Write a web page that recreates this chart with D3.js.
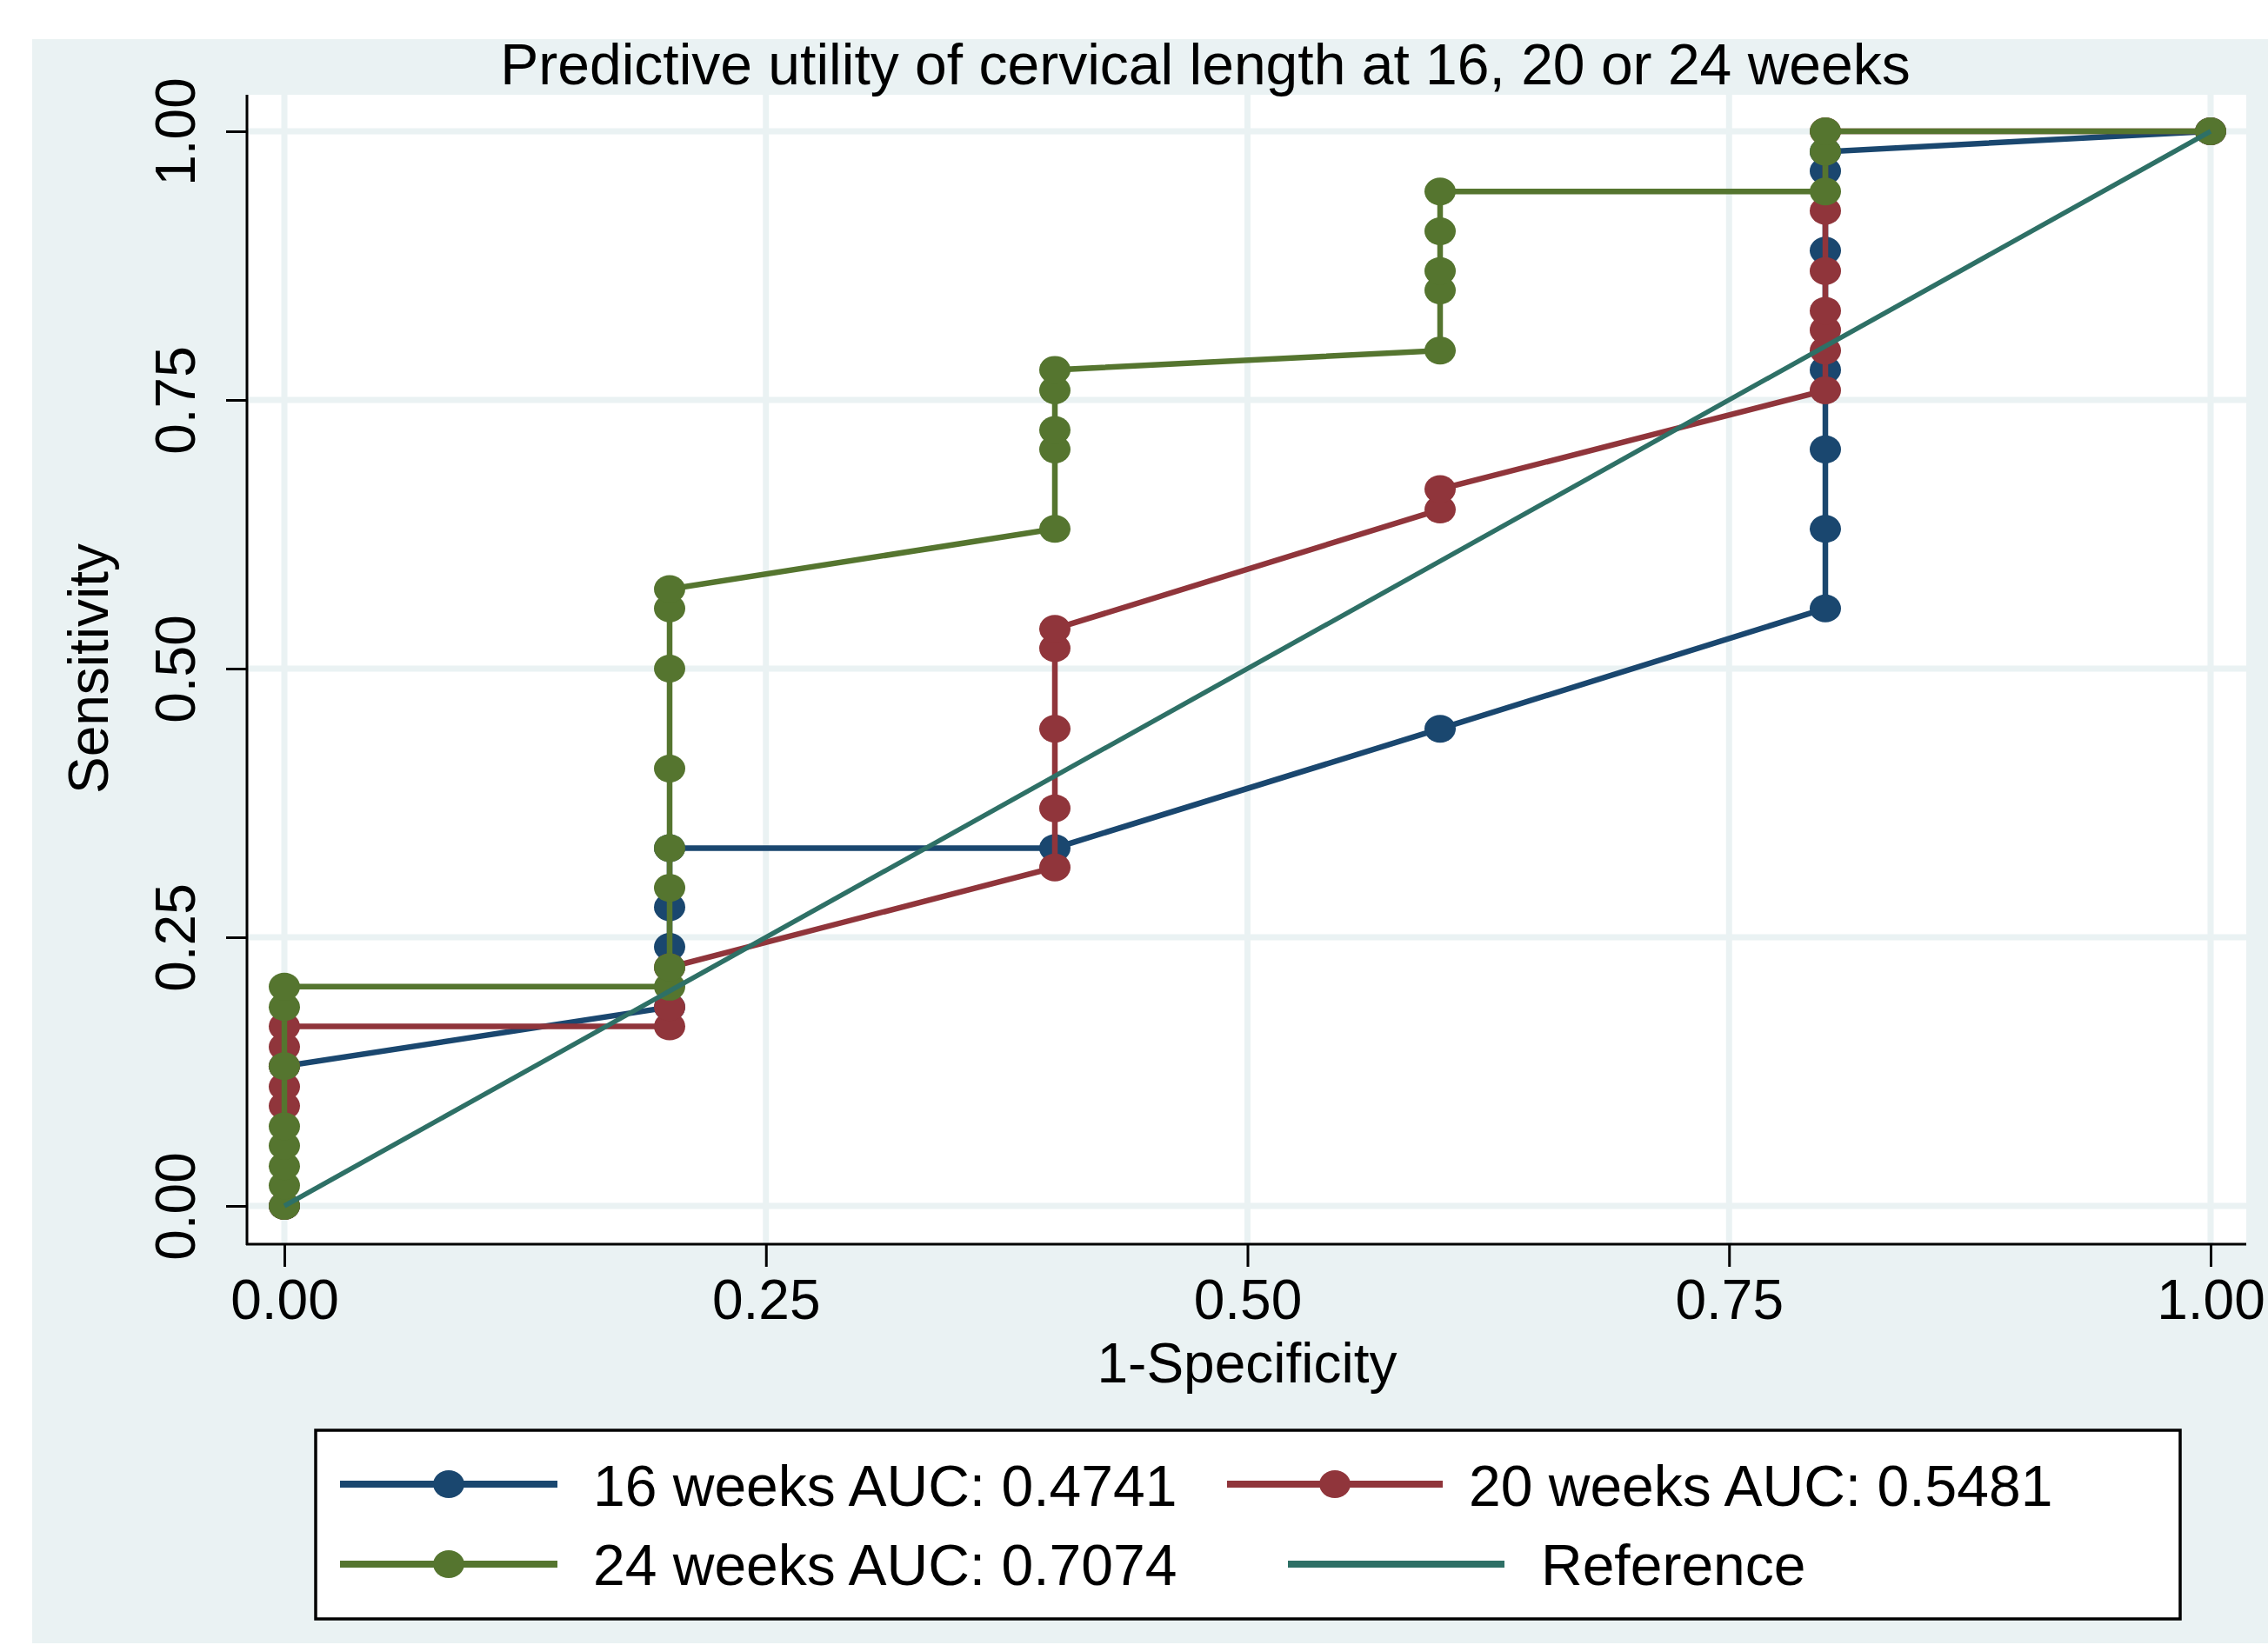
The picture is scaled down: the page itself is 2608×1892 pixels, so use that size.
<!DOCTYPE html>
<html lang="en">
<head>
<meta charset="UTF-8">
<script src="https://d3js.org/d3.v7.min.js"></script>
<title>ROC cervical length</title>
<style>
  body { margin: 0; background: #fff; }
  text { font-family: "Liberation Sans", Arial, sans-serif; fill: #000; }
</style>
</head>
<body>
<div id="Area"></div>
<script>
// 1-specificity / sensitivity pairs
const fpr16  = [0, 0, 0.2, 0.2, 0.2, 0.2, 0.4, 0.6, 0.8, 0.8, 0.8, 0.8, 0.8, 0.8, 0.8, 1];
const sens16 = [0, 0.130, 0.185, 0.241, 0.278, 0.333, 0.333, 0.444, 0.556, 0.630, 0.704, 0.778, 0.889, 0.963, 0.981, 1];

const fpr20  = [0, 0, 0, 0, 0, 0, 0.2, 0.2, 0.2, 0.4, 0.4, 0.4, 0.4, 0.4, 0.6, 0.6, 0.8, 0.8, 0.8, 0.8, 0.8, 0.8, 0.8, 1];
const sens20 = [0, 0.093, 0.111, 0.130, 0.148, 0.167, 0.167, 0.185, 0.222, 0.315, 0.370, 0.444, 0.519, 0.537, 0.648, 0.667, 0.759, 0.796, 0.815, 0.833, 0.870, 0.926, 1, 1];

const fpr24  = [0, 0, 0, 0, 0, 0, 0, 0, 0.2, 0.2, 0.2, 0.2, 0.2, 0.2, 0.2, 0.2, 0.4, 0.4, 0.4, 0.4, 0.4, 0.6, 0.6, 0.6, 0.6, 0.6, 0.8, 0.8, 0.8, 1];
const sens24 = [0, 0.019, 0.037, 0.056, 0.074, 0.130, 0.185, 0.204, 0.204, 0.222, 0.296, 0.333, 0.407, 0.500, 0.556, 0.574, 0.630, 0.704, 0.722, 0.759, 0.778, 0.796, 0.852, 0.870, 0.907, 0.944, 0.944, 0.981, 1, 1];

const refX = [0, 1];
const refY = [0, 1];

const seriesNames = ["16 weeks AUC: 0.4741", "20 weeks AUC: 0.5481", "24 weeks AUC: 0.7074", "Reference"];
const seriesColors = ["#1a476f", "#90353b", "#55752f", "#2e7066"];
const xTicks = [0, 0.25, 0.5, 0.75, 1];
const yTicks = [0, 0.25, 0.5, 0.75, 1];
const chartTitle = "Predictive utility of cervical length at 16, 20 or 24 weeks";
const xTitle = "1-Specificity";
const yTitle = "Sensitivity";

const svg = d3.select("#Area")
  .append("svg")
    .attr("width", 2608)
    .attr("height", 1892);

// backgrounds
svg.append("rect").attr("x", 37).attr("y", 45).attr("width", 2571).attr("height", 1845).attr("fill", "#eaf2f3");
svg.append("rect").attr("x", 284).attr("y", 109).attr("width", 2299).attr("height", 1322).attr("fill", "#fff");

const x = d3.scaleLinear().domain([0, 1]).range([327, 2542]);
const y = d3.scaleLinear().domain([0, 1]).range([1387, 151]);

// grid
svg.append("g").selectAll("line").data(xTicks).enter().append("line")
  .attr("x1", d => x(d)).attr("x2", d => x(d))
  .attr("y1", 109).attr("y2", 1431)
  .attr("stroke", "#eaf2f3").attr("stroke-width", 7);
svg.append("g").selectAll("line").data(yTicks).enter().append("line")
  .attr("x1", 284).attr("x2", 2583)
  .attr("y1", d => y(d)).attr("y2", d => y(d))
  .attr("stroke", "#eaf2f3").attr("stroke-width", 7);

// axes
const yAxis = svg.append("g")
  .attr("transform", "translate(284,0)")
  .call(d3.axisLeft(y).tickValues(yTicks).tickSize(24).tickFormat(d3.format(".2f")));
yAxis.select(".domain").remove();
yAxis.selectAll(".tick line").attr("stroke", "#000").attr("stroke-width", 3);
yAxis.selectAll(".tick text")
  .attr("x", null).attr("dy", null)
  .attr("text-anchor", "middle")
  .attr("transform", "translate(-60,0) rotate(-90)")
  .style("font-size", "64px");

const xAxis = svg.append("g")
  .attr("transform", "translate(0,1431)")
  .call(d3.axisBottom(x).tickValues(xTicks).tickSize(26).tickFormat(d3.format(".2f")));
xAxis.select(".domain").remove();
xAxis.selectAll(".tick line").attr("stroke", "#000").attr("stroke-width", 3);
xAxis.selectAll(".tick text")
  .attr("y", 86).attr("dy", null)
  .style("font-size", "64px");

svg.append("line").attr("x1", 284).attr("x2", 284).attr("y1", 109).attr("y2", 1432)
  .attr("stroke", "#000").attr("stroke-width", 3);
svg.append("line").attr("x1", 283).attr("x2", 2583).attr("y1", 1431).attr("y2", 1431)
  .attr("stroke", "#000").attr("stroke-width", 3);

// titles
svg.append("text").attr("x", 1386).attr("y", 97).attr("text-anchor", "middle")
  .style("font-size", "66px").text(chartTitle);
svg.append("text").attr("x", 1434).attr("y", 1590).attr("text-anchor", "middle")
  .style("font-size", "64px").text(xTitle);
svg.append("text").attr("transform", "translate(124,769) rotate(-90)").attr("text-anchor", "middle")
  .style("font-size", "64px").text(yTitle);

// series
const line = d3.line().x(d => x(d[0])).y(d => y(d[1]));
const series = [
  { pts: d3.zip(fpr16, sens16), color: seriesColors[0] },
  { pts: d3.zip(fpr20, sens20), color: seriesColors[1] },
  { pts: d3.zip(fpr24, sens24), color: seriesColors[2] }
];
series.forEach(s => {
  svg.append("path").datum(s.pts)
    .attr("d", line).attr("fill", "none")
    .attr("stroke", s.color).attr("stroke-width", 6.5);
  svg.append("g").selectAll("ellipse").data(s.pts).enter().append("ellipse")
    .attr("cx", d => x(d[0])).attr("cy", d => y(d[1]))
    .attr("rx", 18).attr("ry", 16)
    .attr("fill", s.color);
});
svg.append("path").datum(d3.zip(refX, refY))
  .attr("d", line).attr("fill", "none")
  .attr("stroke", seriesColors[3]).attr("stroke-width", 5.5);

// legend
const lg = svg.append("g");
lg.append("rect").attr("x", 363).attr("y", 1645).attr("width", 2144).attr("height", 217)
  .attr("fill", "#fff").attr("stroke", "#000").attr("stroke-width", 3.5);
const legendKeys = [
  { x1: 391, x2: 641, tx: 682, y: 1707, base: 1732, marker: true },
  { x1: 1411, x2: 1659, tx: 1689, y: 1707, base: 1732, marker: true },
  { x1: 391, x2: 641, tx: 682, y: 1799, base: 1823, marker: true },
  { x1: 1481, x2: 1730, tx: 1772, y: 1799, base: 1823, marker: false }
];
legendKeys.forEach((k, i) => {
  lg.append("line").attr("x1", k.x1).attr("x2", k.x2).attr("y1", k.y).attr("y2", k.y)
    .attr("stroke", seriesColors[i]).attr("stroke-width", 8);
  if (k.marker) {
    lg.append("ellipse").attr("cx", (k.x1 + k.x2) / 2).attr("cy", k.y)
      .attr("rx", 18).attr("ry", 16).attr("fill", seriesColors[i]);
  }
  lg.append("text").attr("x", k.tx).attr("y", k.base)
    .style("font-size", "66px").text(seriesNames[i]);
});
</script>
</body>
</html>
